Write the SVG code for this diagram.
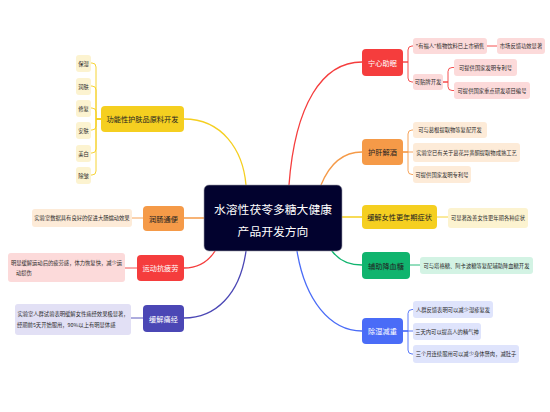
<svg xmlns="http://www.w3.org/2000/svg" width="550" height="412" viewBox="0 0 550 412">
<style>
text{font-family:"Noto Sans CJK SC","Noto Sans",sans-serif;text-anchor:middle;dominant-baseline:central}
.c{font-size:11.8px;fill:#fff}
.b{font-size:7.2px}
.l{font-size:5.3px;fill:#2a2a2a}
.w{fill:#fff}
.d{fill:#222}
.cn{fill:none;stroke-width:1.3;stroke-linecap:round}
.ln{fill:none;stroke-width:0.9;stroke-linecap:round}
</style>
<rect width="550" height="412" fill="#fff"/>
<g id="connectors">
<path class="cn" stroke="#f5cf20" d="M184,119 C222,119 243,150 246,185"/>
<path class="cn" stroke="#f53d3d" d="M289,185 C295,105 322,62 362,62"/>
<path class="cn" stroke="#f59a48" d="M321,185 C330,163 343,152 362,152"/>
<path class="cn" stroke="#f5cf20" d="M342,217 H362"/>
<path class="cn" stroke="#10b46e" d="M332,251 C340,262 350,265 362,265"/>
<path class="cn" stroke="#4a6cf7" d="M297,251 C305,300 330,331 362,331"/>
<path class="cn" stroke="#f59a48" d="M204,218 H184"/>
<path class="cn" stroke="#f53d3d" d="M215,251 C208,262 198,268 184,268"/>
<path class="cn" stroke="#4b47b5" d="M246,251 C240,295 215,318 184,318"/>
<g stroke="#f5cf20" class="ln">
<path d="M101,119 H96 V67 Q96,63 92,63 H91"/>
<path d="M101,119 H96 V90 Q96,86 92,86 H91"/>
<path d="M101,119 H96 V112 Q96,108 92,108 H91"/>
<path d="M101,119 H96 V126 Q96,130 92,130 H91"/>
<path d="M101,119 H96 V149 Q96,153 92,153 H91"/>
<path d="M101,119 H96 V171 Q96,175 92,175 H91"/>
<path d="M437,217 H448"/>
</g>
<g stroke="#f59a48" class="ln">
<path d="M143,218 H132"/>
<path d="M403,152 H408 V134 Q408,130 412,130 H413"/>
<path d="M403,152 H413"/>
<path d="M403,152 H408 V170.5 Q408,174.5 412,174.5 H413"/>
</g>
<g stroke="#f53d3d" class="ln">
<path d="M137,268 H125"/>
<path d="M403,62 H408 V50 Q408,46 412,46 H413"/>
<path d="M403,62 H408 V78 Q408,82 412,82 H413"/>
<path d="M487,46 H497"/>
<path d="M443,82 H448 V71.5 Q448,67.5 452,67.5 H454"/>
<path d="M443,82 H448 V86.5 Q448,90.5 452,90.5 H454"/>
</g>
<g stroke="#4b47b5" class="ln"><path d="M143,318 H131"/></g>
<g stroke="#10b46e" class="ln"><path d="M410,265 H420"/></g>
<g stroke="#4a6cf7" class="ln">
<path d="M403,331 H408 V313.5 Q408,309.5 412,309.5 H413"/>
<path d="M403,331 H413"/>
<path d="M403,331 H408 V350 Q408,354 412,354 H413"/>
</g>
</g>
<g id="center">
<rect x="204" y="185" width="138" height="66" rx="5" fill="#02022e" stroke="#9a9aa8" stroke-width="0.6"/>
<text class="c" x="273" y="208">水溶性茯苓多糖大健康</text>
<text class="c" x="273" y="230">产品开发方向</text>
</g>
<g id="n-skincare">
<rect x="101" y="106" width="83" height="26" rx="4" fill="#f5cf20"/>
<text class="b d" x="142.5" y="119">功能性护肤品原料开发</text>
</g>
<g id="n-skincare-leaves" fill="#fcf3d0">
<rect x="76" y="55" width="15" height="17" rx="3"/><text class="l" x="83.5" y="63.5">保湿</text>
<rect x="76" y="78" width="15" height="17" rx="3"/><text class="l" x="83.5" y="86.5">润肤</text>
<rect x="76" y="100" width="15" height="17" rx="3"/><text class="l" x="83.5" y="108.5">修复</text>
<rect x="76" y="122" width="15" height="17" rx="3"/><text class="l" x="83.5" y="130.5">安肤</text>
<rect x="76" y="145" width="15" height="17" rx="3"/><text class="l" x="83.5" y="153.5">美白</text>
<rect x="76" y="167" width="15" height="17" rx="3"/><text class="l" x="83.5" y="175.5">除皱</text>
</g>
<g id="n-bowel">
<rect x="143" y="206" width="41" height="25" rx="4" fill="#f59a48"/>
<text class="b d" x="163.5" y="218.5">润肠通便</text>
<rect x="32" y="209" width="100" height="18" rx="3" fill="#fdebd8"/>
<text class="l" x="82" y="218">实验室数据具有良好的促进大肠蠕动效果</text>
</g>
<g id="n-fatigue">
<rect x="137" y="255" width="47" height="26" rx="4" fill="#f53d3d"/>
<text class="b w" x="160.5" y="268">运动抗疲劳</text>
<rect x="8" y="253" width="117" height="29" rx="3" fill="#fcdada"/>
<text class="l" x="66.5" y="262.5">明显缓解运动后的疲劳感，体力恢复快，减少运</text>
<text class="l" x="16" y="273" style="text-anchor:start">动损伤</text>
</g>
<g id="n-period">
<rect x="143" y="305" width="41" height="27" rx="4" fill="#4b47b5"/>
<text class="b w" x="163.5" y="318.5">缓解痛经</text>
<rect x="15" y="304" width="116" height="31" rx="3" fill="#e2e0f5"/>
<text class="l" x="73" y="314">实验室人群试验表明缓解女性痛经效果极显著，</text>
<text class="l" x="17" y="325" style="text-anchor:start">经期前5天开始服用，90%以上有明显体感</text>
</g>
<g id="n-sleep">
<rect x="362" y="49" width="41" height="27" rx="4" fill="#f53d3d"/>
<text class="b w" x="382.5" y="62.5">宁心助眠</text>
<g fill="#fcdada">
<rect x="413" y="38" width="74" height="16" rx="3"/>
<rect x="497" y="38" width="48" height="16" rx="3"/>
<rect x="413" y="74" width="30" height="16" rx="3"/>
<rect x="454" y="59" width="63" height="17" rx="3"/>
<rect x="454" y="82" width="76" height="17" rx="3"/>
</g>
<text class="l" x="450" y="46">"有福人"植物饮料已上市销售</text>
<text class="l" x="521" y="46">市场反馈功效显著</text>
<text class="l" x="428" y="82">可贴牌开发</text>
<text class="l" x="485.5" y="67.5">可提供国家发明专利号</text>
<text class="l" x="492" y="90.5">可提供国家重点研发项目编号</text>
</g>
<g id="n-liver">
<rect x="362" y="139" width="41" height="26" rx="4" fill="#f59a48"/>
<text class="b d" x="382.5" y="152">护肝解酒</text>
<g fill="#fdebd8">
<rect x="413" y="122" width="74" height="16" rx="3"/>
<rect x="413" y="143" width="107" height="19" rx="3"/>
<rect x="413" y="166" width="58" height="17" rx="3"/>
</g>
<text class="l" x="450" y="130">可与葛根提取物等复配开发</text>
<text class="l" x="466.5" y="152.5">实验室已有关于葛花异黄酮提取物成熟工艺</text>
<text class="l" x="442" y="174.5">可提供国家发明专利号</text>
</g>
<g id="n-menopause">
<rect x="362" y="205" width="75" height="24" rx="4" fill="#f5cf20"/>
<text class="b d" x="399.5" y="217">缓解女性更年期症状</text>
<rect x="448" y="208" width="80" height="20" rx="3" fill="#fcf3d0"/>
<text class="l" x="488" y="218">可显著改善女性更年期各种症状</text>
</g>
<g id="n-glucose">
<rect x="362" y="252" width="48" height="27" rx="4" fill="#10b46e"/>
<text class="b d" x="386" y="265.5">辅助降血糖</text>
<rect x="420" y="257" width="113" height="17" rx="3" fill="#d3f3e4"/>
<text class="l" x="476.5" y="265.5">可与塔格糖、阿卡波糖等复配辅助降血糖开发</text>
</g>
<g id="n-weight">
<rect x="362" y="318" width="41" height="26" rx="4" fill="#4a6cf7"/>
<text class="b w" x="382.5" y="331">除湿减重</text>
<g fill="#dfe4fc">
<rect x="413" y="301" width="80" height="17" rx="3"/>
<rect x="413" y="323" width="68" height="17" rx="3"/>
<rect x="413" y="345" width="106" height="18" rx="3"/>
</g>
<text class="l" x="453" y="309.5">人群反馈表明可以减少湿疹复发</text>
<text class="l" x="447" y="331.5">三天内可以提高人的精气神</text>
<text class="l" x="466" y="354">三个月连续服用可以减少身体赘肉，减肚子</text>
</g>
</svg>
